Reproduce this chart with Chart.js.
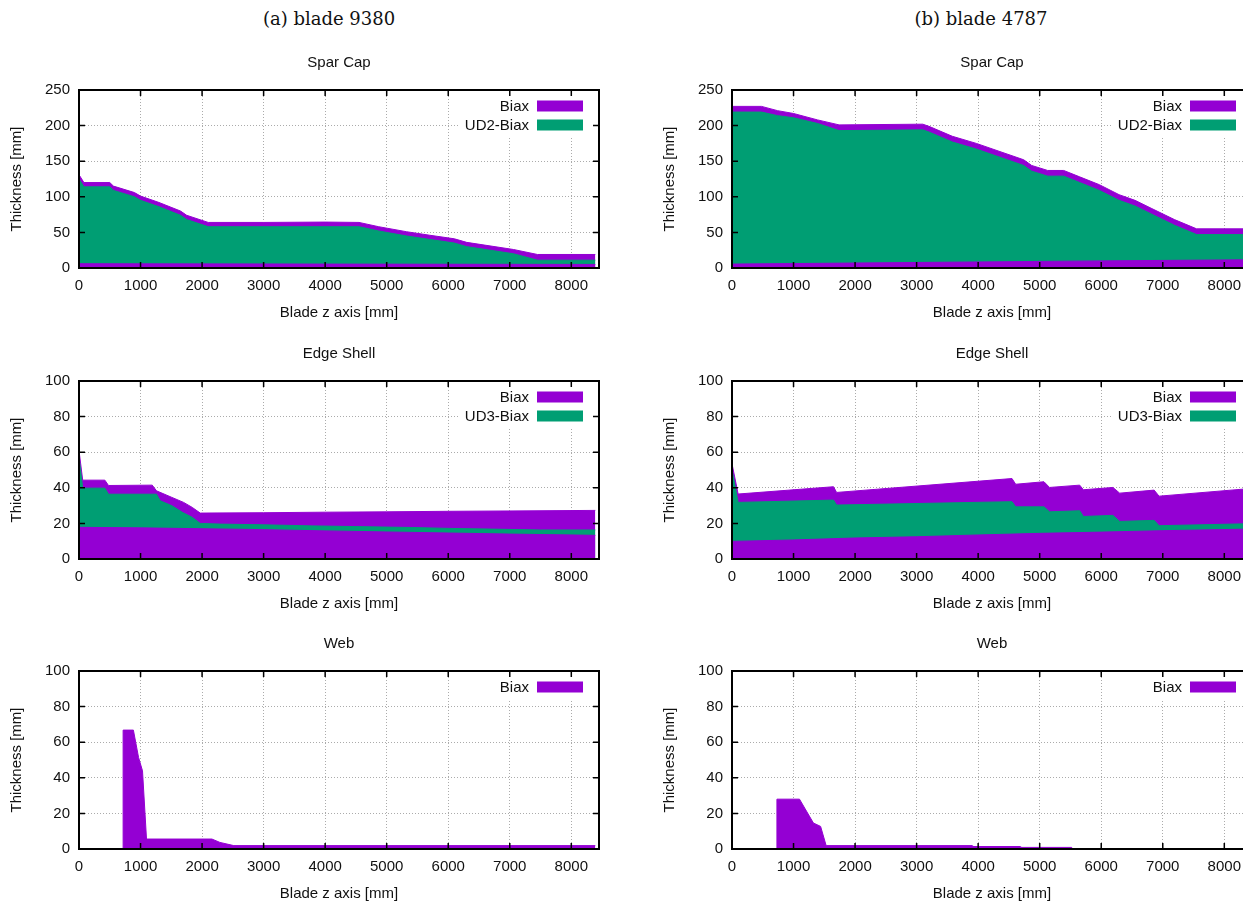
<!DOCTYPE html>
<html>
<head>
<meta charset="utf-8">
<script src="https://cdn.jsdelivr.net/npm/chart.js@4.4.1/dist/chart.umd.min.js"></script>
<style>
    html, body { margin: 0; padding: 0; background: #fff; overflow: hidden; }
    body { width: 1243px; height: 903px; position: relative; }
    canvas { position: absolute; }
    .head {
        position: absolute; top: 8px; width: 300px; text-align: center;
        font: 18px "DejaVu Serif", "Liberation Serif", serif; color: #111;
    }
</style>
</head>
<body>
<div class="head" style="left:179px">(a) blade 9380</div>
<div class="head" style="left:831px">(b) blade 4787</div>
<canvas id="spar9380" width="620" height="280" style="left:0;top:45px"></canvas>
<canvas id="spar4787" width="620" height="280" style="left:653px;top:45px"></canvas>
<canvas id="shell9380" width="620" height="280" style="left:0;top:336px"></canvas>
<canvas id="shell4787" width="620" height="280" style="left:653px;top:336px"></canvas>
<canvas id="web9380" width="620" height="280" style="left:0;top:626px"></canvas>
<canvas id="web4787" width="620" height="280" style="left:653px;top:626px"></canvas>
<script>
const xTicks = [0, 1000, 2000, 3000, 4000, 5000, 6000, 7000, 8000];
const sparTicks = [0, 50, 100, 150, 200, 250];
const thickTicks = [0, 20, 40, 60, 80, 100];

// spar cap, blade 9380
const spar9380OuterZ = [0, 80, 500, 560, 900, 1000, 1300, 1650, 1750, 2100, 3000, 4000, 4550, 4870, 5320, 5700, 6100, 6300, 7060, 7450, 8390];
const spar9380Outer = [131, 120, 120, 115, 106, 101, 92, 80, 74, 64, 64, 64.5, 64, 58, 51, 46, 41, 36, 26, 19, 19];
const spar9380UdZ = [0, 80, 500, 560, 900, 1000, 1300, 1650, 1750, 2100, 4550, 4870, 5320, 6100, 6300, 7060, 7450, 8390];
const spar9380Ud = [125, 114, 114, 109, 100, 95, 86, 74, 68, 58, 58, 52, 45, 35, 30, 20, 11, 11];
const spar9380InnerZ = [0, 4000, 8390];
const spar9380Inner = [6, 5.5, 5];

// spar cap, blade 4787
const spar4787Z = [0, 480, 740, 1000, 1390, 1740, 3100, 3200, 3580, 3970, 4740, 4870, 5130, 5390, 5650, 5970, 6290, 6550, 6810, 7190, 7550, 8390];
const spar4787Outer = [227, 227, 221, 217, 208, 201, 202, 199, 185, 175, 152, 144, 137, 137, 128, 117, 103, 95, 84, 68, 55, 55];
const spar4787Ud = [219, 219, 214, 211, 203, 193, 194, 191, 177, 167, 144, 136, 129, 129, 120, 109, 95, 87, 76, 60, 47, 47];
const spar4787InnerZ = [0, 2000, 4000, 6000, 8390];
const spar4787Inner = [5.5, 7, 8.5, 10, 11.5];

// edge shell, blade 9380
const shell9380OuterZ = [0, 60, 420, 480, 1190, 1260, 1510, 1700, 1840, 1970, 3000, 4000, 5000, 6000, 7000, 8390];
const shell9380Outer = [61, 44.3, 44.3, 41.3, 41.5, 38.3, 34.6, 31.8, 29, 25.8, 26, 26.3, 26.5, 26.8, 27, 27.3];
const shell9380UdZ = [0, 60, 420, 480, 1260, 1320, 1510, 1680, 1840, 1970, 2300, 3000, 3800, 4500, 5400, 6000, 6700, 7500, 8390];
const shell9380Ud = [57, 39.8, 39.8, 36.4, 36.4, 32.7, 29.9, 26.2, 23.4, 20, 19.6, 19.2, 18.6, 18.2, 17.7, 17.2, 16.8, 16.3, 16.3];
const shell9380InnerZ = [0, 1000, 2000, 3000, 4000, 5000, 6000, 7000, 8390];
const shell9380Inner = [17.8, 17.5, 17, 16.5, 15.8, 15.2, 14.6, 14, 13.3];

// edge shell, blade 4787
const shell4787Z = [0, 100, 1650, 1700, 4550, 4610, 5070, 5160, 5650, 5710, 6190, 6300, 6860, 6940, 8390];
const shell4787Outer = [53.5, 36.5, 40.6, 37.4, 45.2, 42, 43.4, 40.2, 41.5, 38.9, 40.2, 37, 38.7, 35.3, 39.5];
const shell4787Ud = [50, 31.8, 33.1, 30.3, 32.2, 29.3, 29.3, 26.5, 27.1, 23.9, 24.5, 21.1, 21.7, 18.7, 19.8];
const shell4787InnerZ = [0, 1000, 2000, 3000, 4000, 5000, 6000, 7000, 8390];
const shell4787Inner = [9.9, 10.7, 11.8, 12.5, 13.5, 14.4, 15.1, 15.9, 16.8];

// web
const web9380Z = [0, 716, 717, 884, 968, 1032, 1097, 2160, 2290, 2516, 8390];
const web9380 = [0, 0, 66.8, 66.8, 51.4, 43.9, 5.6, 5.6, 3.7, 1.9, 1.9];
const web4787Z = [0, 729, 730, 1097, 1323, 1440, 1530, 3900, 3910, 4680, 4690, 5520, 5530, 8390];
const web4787 = [0, 0, 28, 28, 14.6, 12.7, 1.9, 1.9, 1.4, 1.4, 0.9, 0.9, 0, 0];

const X_MAX = 8450;
const PURPLE = "#9400d3";
const GREEN = "#009e73";
const GRID = "rgba(0,0,0,0.33)";
const FONT = { family: "'Liberation Sans', Arial, sans-serif", size: 15 };

Chart.defaults.color = "#111";
Chart.defaults.font.family = FONT.family;

function layer(label, z, t, color) {
    return {
        label,
        data: z.map((v, i) => ({ x: v, y: t[i] })),
        borderColor: color,
        backgroundColor: color,
        borderWidth: 1,
        pointRadius: 0,
        tension: 0,
        fill: "origin",
    };
}

// frame with inward ticks on all four sides, drawn over the areas
const framePlugin = {
    id: "frame",
    afterDatasetsDraw(chart) {
        const { ctx, chartArea: a, scales: { x, y } } = chart;
        ctx.save();
        ctx.strokeStyle = "#000";
        ctx.lineWidth = 1.5;
        ctx.beginPath();
        x.ticks.forEach((t) => {
            const px = x.getPixelForValue(t.value);
            ctx.moveTo(px, a.bottom);
            ctx.lineTo(px, a.bottom - 6);
            ctx.moveTo(px, a.top);
            ctx.lineTo(px, a.top + 6);
        });
        y.ticks.forEach((t) => {
            const py = y.getPixelForValue(t.value);
            ctx.moveTo(a.left, py);
            ctx.lineTo(a.left + 6, py);
            ctx.moveTo(a.right, py);
            ctx.lineTo(a.right - 6, py);
        });
        ctx.stroke();
        ctx.lineWidth = 2;
        ctx.strokeRect(a.left, a.top, a.right - a.left, a.bottom - a.top);
        ctx.restore();
    },
};

// gnuplot style key: text first, then a filled sample, opaque background
function keyItems(chart) {
    const seen = [];
    chart.data.datasets.forEach((d) => {
        if (!seen.find((s) => s.label === d.label)) seen.push(d);
    });
    return seen;
}

function keyLayout(chart) {
    const { ctx, chartArea: a } = chart;
    ctx.save();
    ctx.font = FONT.size + "px " + FONT.family;
    const items = keyItems(chart);
    const textW = Math.max(...items.map((d) => ctx.measureText(d.label).width));
    ctx.restore();
    const boxRight = a.right - 16;
    const boxLeft = boxRight - 46;
    const textRight = boxLeft - 8;
    return { items, boxLeft, textRight, left: textRight - textW - 6, rowY: (i) => a.top + 16 + i * 19 };
}

const keyPlugin = {
    id: "key",
    beforeDatasetsDraw(chart) {
        const { ctx, chartArea: a } = chart;
        const k = keyLayout(chart);
        ctx.save();
        ctx.fillStyle = "#fff";
        ctx.fillRect(k.left, a.top, a.right - k.left, k.rowY(k.items.length - 1) + 12 - a.top);
        ctx.restore();
    },
    afterDatasetsDraw(chart) {
        const { ctx } = chart;
        const k = keyLayout(chart);
        ctx.save();
        ctx.font = FONT.size + "px " + FONT.family;
        ctx.textAlign = "right";
        ctx.textBaseline = "middle";
        k.items.forEach((d, i) => {
            const cy = k.rowY(i);
            ctx.fillStyle = "#111";
            ctx.fillText(d.label, k.textRight, cy + 1);
            ctx.fillStyle = d.backgroundColor;
            ctx.fillRect(k.boxLeft, cy - 5.5, 46, 11);
        });
        ctx.restore();
    },
};

function makeChart(id, title, yMax, yTicks, datasets) {
    return new Chart(document.getElementById(id), {
        type: "line",
        data: { datasets },
        options: {
            responsive: false,
            animation: false,
            events: [],
            layout: { padding: { top: 0, left: 0, right: 21, bottom: 0 } },
            plugins: {
                legend: { display: false },
                tooltip: { enabled: false },
                title: {
                    display: true,
                    text: title,
                    fullSize: false,
                    color: "#111",
                    font: { family: FONT.family, size: 15, weight: "normal" },
                    padding: { top: 9, bottom: 18 },
                },
            },
            scales: {
                x: {
                    type: "linear",
                    min: 0,
                    max: X_MAX,
                    afterBuildTicks: (s) => { s.ticks = xTicks.map((v) => ({ value: v })); },
                    afterFit: (s) => { s.height = 57; },
                    grid: { color: GRID, drawTicks: false, lineWidth: 1 },
                    border: { display: false, dash: [1, 2] },
                    ticks: { padding: 9, font: FONT, color: "#111", maxRotation: 0, callback: (v) => String(v) },
                    title: { display: true, text: "Blade z axis [mm]", font: FONT, color: "#111", padding: { top: 0, bottom: 3 } },
                },
                y: {
                    min: 0,
                    max: yMax,
                    afterBuildTicks: (s) => { s.ticks = yTicks.map((v) => ({ value: v })); },
                    afterFit: (s) => { s.width = 79; },
                    grid: { color: GRID, drawTicks: false, lineWidth: 1 },
                    border: { display: false, dash: [1, 2] },
                    ticks: { padding: 9, font: FONT, color: "#111", callback: (v) => String(v) },
                    title: { display: true, text: "Thickness [mm]", font: FONT, color: "#111", padding: { top: 8, bottom: 0 } },
                },
            },
        },
        plugins: [keyPlugin, framePlugin],
    });
}

makeChart("spar9380", "Spar Cap", 250, sparTicks, [
    layer("Biax", spar9380InnerZ, spar9380Inner, PURPLE),
    layer("UD2-Biax", spar9380UdZ, spar9380Ud, GREEN),
    layer("Biax", spar9380OuterZ, spar9380Outer, PURPLE),
]);
makeChart("spar4787", "Spar Cap", 250, sparTicks, [
    layer("Biax", spar4787InnerZ, spar4787Inner, PURPLE),
    layer("UD2-Biax", spar4787Z, spar4787Ud, GREEN),
    layer("Biax", spar4787Z, spar4787Outer, PURPLE),
]);
makeChart("shell9380", "Edge Shell", 100, thickTicks, [
    layer("Biax", shell9380InnerZ, shell9380Inner, PURPLE),
    layer("UD3-Biax", shell9380UdZ, shell9380Ud, GREEN),
    layer("Biax", shell9380OuterZ, shell9380Outer, PURPLE),
]);
makeChart("shell4787", "Edge Shell", 100, thickTicks, [
    layer("Biax", shell4787InnerZ, shell4787Inner, PURPLE),
    layer("UD3-Biax", shell4787Z, shell4787Ud, GREEN),
    layer("Biax", shell4787Z, shell4787Outer, PURPLE),
]);
makeChart("web9380", "Web", 100, thickTicks, [
    layer("Biax", web9380Z, web9380, PURPLE),
]);
makeChart("web4787", "Web", 100, thickTicks, [
    layer("Biax", web4787Z, web4787, PURPLE),
]);
</script>
</body>
</html>
